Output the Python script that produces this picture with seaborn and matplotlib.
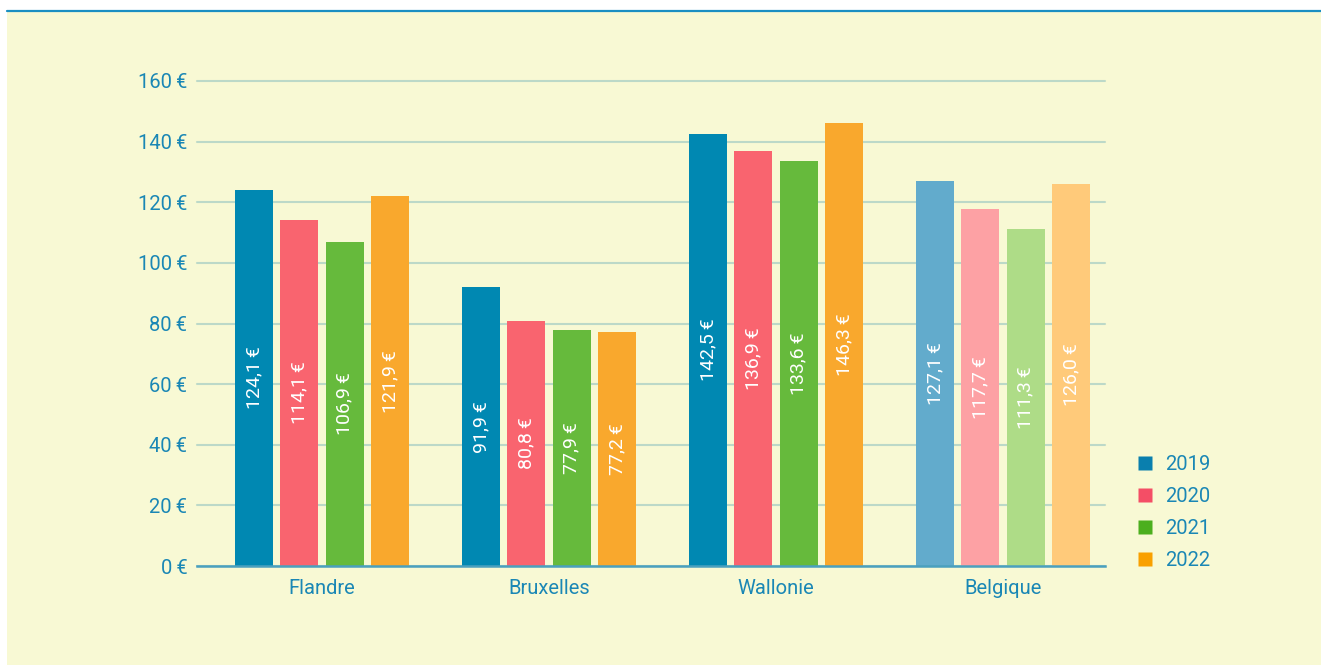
import pandas as pd
import matplotlib.pyplot as plt
import seaborn as sns
from matplotlib.patches import Rectangle
from matplotlib.lines import Line2D

regions = ["Flandre", "Bruxelles", "Wallonie", "Belgique"]
years = ["2019", "2020", "2021", "2022"]
v2019 = [124.1, 91.9, 142.5, 127.1]
v2020 = [114.1, 80.8, 136.9, 117.7]
v2021 = [106.9, 77.9, 133.6, 111.3]
v2022 = [121.9, 77.2, 146.3, 126.0]

colors = ["#0088B2", "#F9646F", "#66BA3C", "#F9A82D"]
light_colors = ["#62ABCC", "#FDA1A4", "#AEDC87", "#FFCA7A"]
legend_colors = ["#0A7FAE", "#F44E66", "#4CAF1E", "#F9A000"]

txt_color = "#1A87B5"
grid_color = "#BCD9C8"
cream = "#F8F9D4"

df = pd.DataFrame({
    "region": regions * 4,
    "year": [y for y in years for _ in regions],
    "value": v2019 + v2020 + v2021 + v2022,
})

sns.set_style("white")
plt.rcParams["font.family"] = ["Roboto", "DejaVu Sans"]

fig = plt.figure(figsize=(13.21, 6.66), dpi=100)
fig.patch.set_facecolor("white")
fig.patches.append(Rectangle((7 / 1321, 1 / 666), 1, (666 - 11) / 666 - 1 / 666,
                             transform=fig.transFigure, facecolor=cream,
                             edgecolor="none", zorder=-10))
fig.lines.append(Line2D([7 / 1321, 1], [1 - 10.5 / 666, 1 - 10.5 / 666],
                        transform=fig.transFigure, color="#1B8FC2", lw=1.6,
                        zorder=-5))

ax = fig.add_axes([197 / 1321, 100 / 666, 908 / 1321, 485 / 666])
ax.set_facecolor("none")

sns.barplot(data=df, x="region", y="value", hue="year", palette=colors,
            width=0.8, ax=ax, legend=False, saturation=1, zorder=3)

bar_w = 38 / 227
for i, cont in enumerate(ax.containers):
    for j, bar in enumerate(cont):
        cx = bar.get_x() + bar.get_width() / 2
        bar.set_x(cx - bar_w / 2)
        bar.set_width(bar_w)
        bar.set_edgecolor("none")
        if j == 3:
            bar.set_facecolor(light_colors[i])
        h = bar.get_height()
        label = f"{h:.1f}".replace(".", ",") + "\u2009€"
        ax.text(cx, h / 2, label, rotation=90, ha="center", va="center",
                color="white", fontsize=14, zorder=4)

ax.set_ylim(0, 160)
# categories sit a little right of the grid's centre in the original
ax.set_xlim(-125 / 227, 4 - 125 / 227)
ax.set_yticks(range(0, 161, 20))
ax.set_yticklabels([f"{t}\u2009€" for t in range(0, 161, 20)])
ax.yaxis.grid(True, color=grid_color, lw=1.5, zorder=0)
for gl in ax.get_ygridlines():
    gl.set_clip_on(False)
ax.set_axisbelow(True)
for s in ["top", "right", "left"]:
    ax.spines[s].set_visible(False)
ax.spines["bottom"].set_color("#4AA0BE")
ax.spines["bottom"].set_linewidth(1.8)
ax.spines["bottom"].set_zorder(5)
ax.tick_params(axis="both", length=0, labelsize=14.5, labelcolor=txt_color)
ax.tick_params(axis="y", pad=7)
ax.tick_params(axis="x", pad=9)
ax.set_xlabel("")
ax.set_ylabel("")

handles = [Line2D([], [], marker="s", linestyle="none", markersize=9.5,
                  markerfacecolor=c, markeredgecolor="none") for c in legend_colors]
leg = fig.legend(handles, years, loc="upper left",
                 bbox_to_anchor=(1117 / 1321, 1 - 437 / 666), frameon=False,
                 fontsize=14.5, labelspacing=0.65, handletextpad=0.5,
                 handlelength=1.0)
for t in leg.get_texts():
    t.set_color(txt_color)

fig.savefig("out.png", dpi=100)
